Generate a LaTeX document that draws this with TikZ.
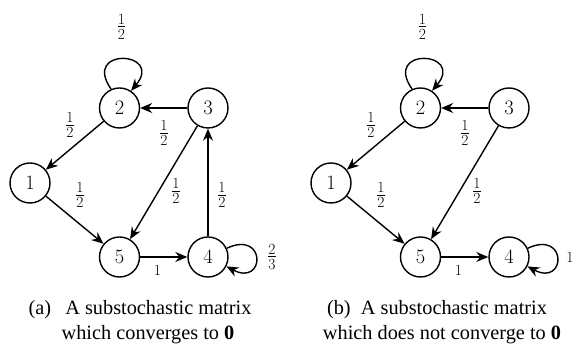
\documentclass[tikz,border=0pt]{standalone}
\usepackage{fontspec}
\setmainfont{Liberation Serif}
\newfontfamily\lmr{Latin Modern Roman}
\usetikzlibrary{arrows.meta}
\newcommand{\myfrac}[2]{\vbox{\offinterlineskip\halign{\hfil##\hfil\cr #1\cr
  \noalign{\kern2pt\hrule height0.7pt\kern2.2pt} #2\cr}}}
\begin{document}
\begin{tikzpicture}[x=1pt,y=1pt,
  state/.style={circle,draw,line width=1.4pt,minimum size=40pt,inner sep=0pt,font=\lmr\fontsize{20.5}{24}\selectfont},
  edge/.style={line width=1.4pt,-{Stealth[length=12pt,width=10pt,inset=4pt]}},
  lab/.style={inner sep=0pt,font=\lmr\fontsize{15.5}{19}\selectfont},
  captext/.style={anchor=base,inner sep=0pt,font=\fontsize{20.3}{24}\selectfont}]
\useasboundingbox (0,0) rectangle (576,352);
% ---------- (a) ----------
\node[state] (a1) at (30,169) {1};
\node[state] (a2) at (119.5,244) {2};
\node[state] (a3) at (208,244) {3};
\node[state] (a4) at (208,95) {4};
\node[state] (a5) at (119.5,95) {5};
\draw[edge] (a2.114) .. controls +(125:52) and +(50:52) .. (a2.56);
\draw[edge] (a3) -- (a2);
\draw[edge] (a2) -- (a1);
\draw[edge] (a1) -- (a5);
\draw[edge] (a3) -- (a5);
\draw[edge] (a4) -- (a3);
\draw[edge] (a5) -- (a4);
\draw[edge] (a4.25) .. controls +(25:44) and +(-28:44) .. (a4.-27);
\node[lab] (la22) at (121.5,325.5) {\myfrac{1}{2}};
\node[lab] (la21) at (70,227) {\myfrac{1}{2}};
\node[lab] (la32) at (164,219) {\myfrac{1}{2}};
\node[lab] (la35) at (176,161) {\myfrac{1}{2}};
\node[lab] (la43) at (222,157) {\myfrac{1}{2}};
\node[lab] (la15) at (80,157) {\myfrac{1}{2}};
\node[lab] (la54) at (157.5,81.5) {1};
\node[lab] (la44) at (272,95) {\myfrac{2}{3}};
\node[captext] (ca1) at (140,37) {(a)\hspace{0.7em}A substochastic matrix};
\node[captext] (ca2) at (148,12) {which converges to \textbf{0}};
% ---------- (b) ----------
\begin{scope}[xshift=301pt]
\node[state] (b1) at (30,169) {1};
\node[state] (b2) at (119.5,244) {2};
\node[state] (b3) at (208,244) {3};
\node[state] (b4) at (208,95) {4};
\node[state] (b5) at (119.5,95) {5};
\draw[edge] (b2.114) .. controls +(125:52) and +(50:52) .. (b2.56);
\draw[edge] (b3) -- (b2);
\draw[edge] (b2) -- (b1);
\draw[edge] (b1) -- (b5);
\draw[edge] (b3) -- (b5);
\draw[edge] (b5) -- (b4);
\draw[edge] (b4.25) .. controls +(25:44) and +(-28:44) .. (b4.-27);
\node[lab] (lb22) at (121.5,325.5) {\myfrac{1}{2}};
\node[lab] (lb21) at (70,227) {\myfrac{1}{2}};
\node[lab] (lb32) at (164,219) {\myfrac{1}{2}};
\node[lab] (lb35) at (176,161) {\myfrac{1}{2}};
\node[lab] (lb15) at (80,157) {\myfrac{1}{2}};
\node[lab] (lb54) at (157.5,81.5) {1};
\node[lab] (lb44) at (269,95) {1};
\node[captext] (cb1) at (136,37) {(b)\hspace{0.5em}A substochastic matrix};
\node[captext] (cb2) at (141,12) {which does not converge to \textbf{0}};
\end{scope}
\end{tikzpicture}
\end{document}
